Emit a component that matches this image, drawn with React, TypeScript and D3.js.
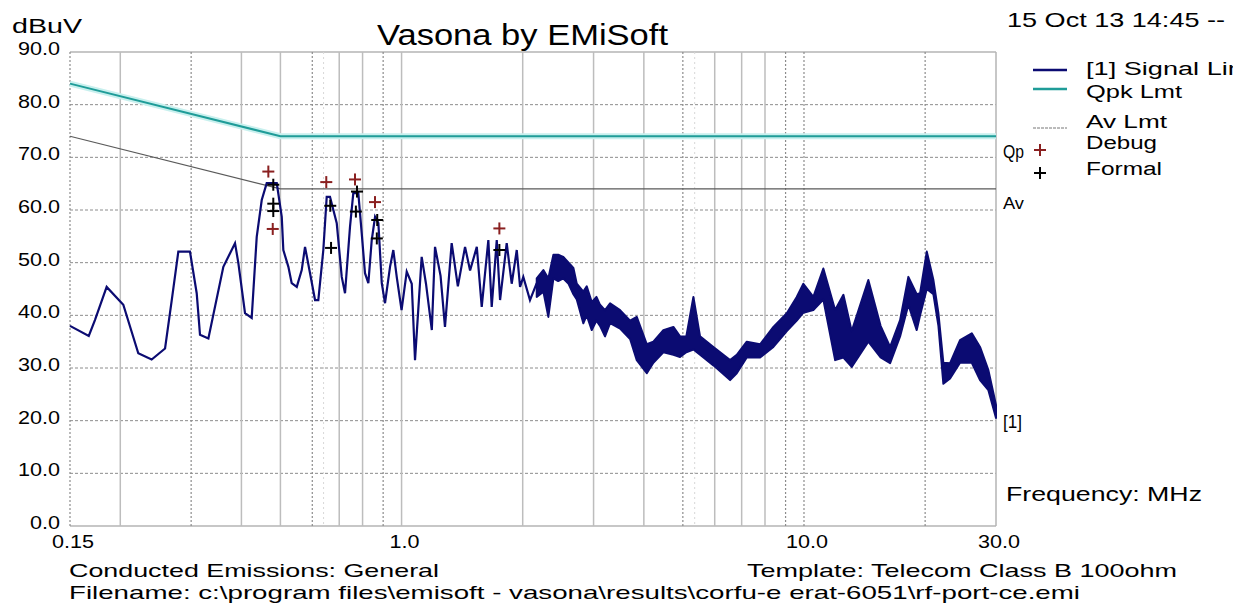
import React from "react";
import * as d3 from "d3";

// y axis (dBuV) and x axis (MHz) labels
const yTicks = [0, 10, 20, 30, 40, 50, 60, 70, 80, 90];
const xTickFreqs = [0.15, 1.0, 10.0, 30.0];
const xTickLabels = ["0.15", "1.0", "10.0", "30.0"];
const gridSolid = [0.2, 0.4, 0.5, 0.7, 0.8, 1, 2, 3, 4, 6, 7, 8];
const gridDotted = [0.3, 0.6, 0.9, 5, 9, 10, 20];
const gridFaint = [0.64, 5.35];

// limit lines
const limitFreq = [0.15, 0.5, 30];
const qpkLevel = [84, 74, 74];
const avLevel = [74, 64, 64];

// signal trace, low band (single line)
const sigFreq = [0.15, 0.167, 0.173, 0.185, 0.2035, 0.2217, 0.2393, 0.2584, 0.2685, 0.2788, 0.298, 0.3097, 0.3156, 0.3311, 0.3607, 0.3856, 0.3929, 0.4083, 0.4242, 0.4366, 0.4493, 0.4623, 0.4896, 0.5038, 0.5084, 0.5233, 0.5333, 0.549, 0.5648, 0.5756, 0.5923, 0.6095, 0.6211, 0.6391, 0.6516, 0.664, 0.6901, 0.7101, 0.7236, 0.7445, 0.7587, 0.7808, 0.7961, 0.8112, 0.8269, 0.8431, 0.8593, 0.8757, 0.8929, 0.9097, 0.9361, 0.9539, 0.9727, 1.0, 1.03, 1.06, 1.08, 1.122, 1.15, 1.189, 1.211, 1.25, 1.282, 1.332, 1.38, 1.438, 1.48, 1.538, 1.582, 1.643, 1.675, 1.724, 1.757, 1.825, 1.878, 1.933, 1.97, 2.007, 2.085, 2.167];
const sigLevel = [38, 36.1, 39.1, 45.4, 42, 32.8, 31.6, 33.7, 42.9, 52.1, 52.1, 44.2, 36.3, 35.6, 49.2, 53.7, 50, 40.4, 39.5, 54.9, 61.9, 65.1, 65.1, 58.7, 52.4, 49.2, 46.1, 45.4, 48.6, 53, 48, 42.9, 42.9, 52.4, 62.5, 62.5, 57.5, 47.3, 44.2, 56.8, 63.2, 63.2, 55.6, 48, 46.1, 54.3, 58.7, 57.5, 46.1, 42.3, 49.2, 52.4, 47.3, 41, 48.3, 46, 31.5, 51.1, 46, 37.2, 53, 47.5, 37.8, 53.7, 45.5, 53, 48.5, 53, 41.6, 54.3, 41.6, 54.3, 42.9, 53.7, 46, 52.4, 45.4, 47.3, 42.9, 46.1];

// signal trace, high band (dense, drawn as min/max envelope)
const bandFreq = [2.167, 2.251, 2.316, 2.384, 2.45, 2.523, 2.6, 2.673, 2.725, 2.829, 2.885, 2.969, 3.05, 3.113, 3.203, 3.297, 3.491, 3.697, 3.841, 4.068, 4.224, 4.472, 4.736, 4.92, 5.1, 5.311, 5.517, 5.955, 6.552, 6.807, 7.208, 7.778, 8.394, 9.063, 9.594, 9.963, 10.55, 11.17, 11.95, 12.53, 13.14, 14.45, 15.5, 16.37, 17.33, 18.17, 19.06, 19.43, 20.19, 20.97, 21.58, 22.2, 23.07, 24.42, 26.12, 27.38, 28.72, 30];
const bandLow = [43.5, 44.5, 39.7, 47, 46.5, 47, 46, 44, 43, 38.5, 40, 37.2, 39, 38, 36, 38.5, 37.5, 35.5, 31.5, 29, 31, 33, 32.5, 32.1, 33, 33.5, 32.5, 30.5, 27.7, 29, 32, 32, 34, 37, 39, 40.5, 41, 43, 31.5, 32, 30.2, 35, 32, 30.9, 36, 42, 37.2, 40, 45, 44, 38, 27, 28, 31, 31, 27.7, 25.8, 20.5];
const bandHigh = [47, 48.6, 47, 51.5, 51.5, 51.1, 50, 49, 46, 44.5, 45.5, 42.5, 43.5, 42, 41, 42.3, 41, 39, 39.7, 34.5, 35, 37.2, 37.8, 36, 36, 43.5, 36, 34, 31.5, 32.5, 35, 34.5, 37.8, 40.4, 43.5, 46, 43.5, 48.9, 41, 43.9, 37, 46.7, 38, 34, 39.1, 47.3, 44, 44.2, 52.1, 46.7, 40.4, 31, 30.9, 35.3, 36.6, 34, 29.6, 23];

// peak markers
const debugFreq = [0.4666, 0.4785, 0.65, 0.766, 0.859, 1.75];
const debugLevel = [67.3, 56.4, 65.3, 65.8, 61.5, 56.5];
const formalFreq = [0.48, 0.48, 0.48, 0.665, 0.668, 0.775, 0.77, 0.87, 0.868, 1.75];
const formalLevel = [64.8, 61.2, 59.8, 60.8, 52.8, 63.5, 59.7, 58.1, 54.6, 52.4];

const legendNames = ["[1] Signal Line", "Qpk Lmt", "Av Lmt", "Debug", "Formal"];

const NAVY = "#0b0b72";
const TEAL = "#1f9c98";
const RED = "#8a2020";
const FONT = "'Liberation Sans', Arial, sans-serif";

const App: React.FC = () => {
  const width = 1233;
  const height = 610;
  const left = 70, right = 996, top = 52, bottom = 526;

  const x = d3.scaleLog().domain([0.15, 30]).range([left, right]);
  const y = d3.scaleLinear().domain([0, 90]).range([bottom, top]);

  const line = d3.line<[number, number]>().x((d) => x(d[0])).y((d) => y(d[1]));
  const sigPts = sigFreq.map((f, i) => [f, sigLevel[i]] as [number, number]);
  const qpkPts = limitFreq.map((f, i) => [f, qpkLevel[i]] as [number, number]);
  const avPts = limitFreq.map((f, i) => [f, avLevel[i]] as [number, number]);

  const band = d3
    .area<number>()
    .x((_, i) => x(bandFreq[i]))
    .y0((_, i) => y(bandLow[i]))
    .y1((_, i) => y(bandHigh[i]));

  const cross = (cx: number, cy: number, color: string, key: string) => (
    <g key={key} stroke={color} strokeWidth={2}>
      <line x1={cx - 6} x2={cx + 6} y1={cy} y2={cy} />
      <line x1={cx} x2={cx} y1={cy - 6} y2={cy + 6} />
    </g>
  );

  const legendY = [75, 98, 128, 149, 175];
  const legendW = [172, 96, 81, 71, 76];

  return (
    <svg
      width={width}
      height={height}
      style={{ position: "absolute", left: 0, top: 0, background: "#fff" }}
      fontFamily={FONT}
    >
      <rect width={width} height={height} fill="#fff" />

      {/* horizontal grid */}
      {yTicks.map((v) => (
        <line
          key={"h" + v}
          x1={left}
          x2={right}
          y1={y(v)}
          y2={y(v)}
          stroke={v === 0 || v === 90 ? "#b4b4b4" : "#8c8c8c"}
          strokeWidth={v === 0 || v === 90 ? 1.5 : 1}
          strokeDasharray={v === 0 || v === 90 ? undefined : "3,2"}
        />
      ))}
      {/* vertical grid */}
      {gridSolid.map((f) => (
        <line key={"s" + f} x1={x(f)} x2={x(f)} y1={top} y2={bottom} stroke="#bdbdbd" strokeWidth={1.5} />
      ))}
      {gridDotted.map((f) => (
        <line key={"d" + f} x1={x(f)} x2={x(f)} y1={top} y2={bottom} stroke="#8c8c8c" strokeWidth={1.2} strokeDasharray="2,2" />
      ))}
      {gridFaint.map((f) => (
        <line key={"f" + f} x1={x(f)} x2={x(f)} y1={top} y2={bottom} stroke="#d8d8d8" strokeWidth={1} strokeDasharray="2,3" />
      ))}
      <line x1={left} x2={left} y1={top} y2={bottom} stroke="#8c8c8c" strokeWidth={1.2} strokeDasharray="2,2" />
      <line x1={right} x2={right} y1={top} y2={bottom} stroke="#b4b4b4" strokeWidth={1.5} />

      {/* limits */}
      <path d={line(qpkPts) ?? ""} fill="none" stroke="#c8f0ee" strokeWidth={6} />
      <path d={line(qpkPts) ?? ""} fill="none" stroke={TEAL} strokeWidth={2} />
      <path d={line(avPts) ?? ""} fill="none" stroke="#5a5a5a" strokeWidth={1.2} />

      {/* signal */}
      <path d={line(sigPts) ?? ""} fill="none" stroke={NAVY} strokeWidth={2.2} strokeLinejoin="miter" />
      <path d={band(bandFreq) ?? ""} fill={NAVY} stroke={NAVY} strokeWidth={2} strokeLinejoin="round" />

      {/* markers */}
      {formalFreq.map((f, i) => cross(x(f), y(formalLevel[i]), "#000", "fm" + i))}
      {debugFreq.map((f, i) => cross(x(f), y(debugLevel[i]), RED, "dm" + i))}

      {/* axis labels */}
      {yTicks.map((v) => (
        <text key={"yl" + v} x={60} y={y(v) + 3} textAnchor="end" fontSize={19} textLength={v === 0 ? 30 : 42} lengthAdjust="spacingAndGlyphs">
          {v.toFixed(1)}
        </text>
      ))}
      {xTickFreqs.map((f, i) => (
        <text key={"xl" + f} x={x(f) + 3} y={548} textAnchor="middle" fontSize={19} textLength={xTickLabels[i].length === 3 ? 30 : 42} lengthAdjust="spacingAndGlyphs">
          {xTickLabels[i]}
        </text>
      ))}

      <text x={12} y={33} fontSize={20} textLength={70} lengthAdjust="spacingAndGlyphs">dBuV</text>
      <text x={377} y={45} fontSize={29} textLength={291} lengthAdjust="spacingAndGlyphs">Vasona by EMiSoft</text>
      <text x={1007} y={27} fontSize={21} textLength={218} lengthAdjust="spacingAndGlyphs">15 Oct 13 14:45 --</text>

      {/* legend */}
      <line x1={1033} x2={1067} y1={70} y2={70} stroke={NAVY} strokeWidth={2.5} />
      <line x1={1033} x2={1067} y1={89} y2={89} stroke={TEAL} strokeWidth={2.5} />
      <line x1={1033} x2={1067} y1={128} y2={128} stroke="#777" strokeWidth={1} strokeDasharray="3,1" />
      {legendNames.map((n, i) => (
        <text key={n} x={1086} y={legendY[i]} fontSize={18} textLength={legendW[i]} lengthAdjust="spacingAndGlyphs">
          {n}
        </text>
      ))}
      <text x={1003} y={158} fontSize={18} textLength={21} lengthAdjust="spacingAndGlyphs">Qp</text>
      {cross(1040, 150, RED, "lgd")}
      {cross(1040, 173, "#000", "lgf")}
      <text x={1003} y={209} fontSize={17} textLength={21} lengthAdjust="spacingAndGlyphs">Av</text>
      <text x={1003} y={428} fontSize={18} textLength={19} lengthAdjust="spacingAndGlyphs">[1]</text>
      <text x={1006} y={501} fontSize={21} textLength={196} lengthAdjust="spacingAndGlyphs">Frequency: MHz</text>

      {/* footer */}
      <text x={69} y={577} fontSize={19} textLength={370} lengthAdjust="spacingAndGlyphs">Conducted Emissions: General</text>
      <text x={747} y={577} fontSize={19} textLength={430} lengthAdjust="spacingAndGlyphs">Template: Telecom Class B 100ohm</text>
      <text x={69} y={599} fontSize={19} textLength={1011} lengthAdjust="spacingAndGlyphs">
        Filename: c:\program files\emisoft - vasona\results\corfu-e erat-6051\rf-port-ce.emi
      </text>
    </svg>
  );
};

export default App;
